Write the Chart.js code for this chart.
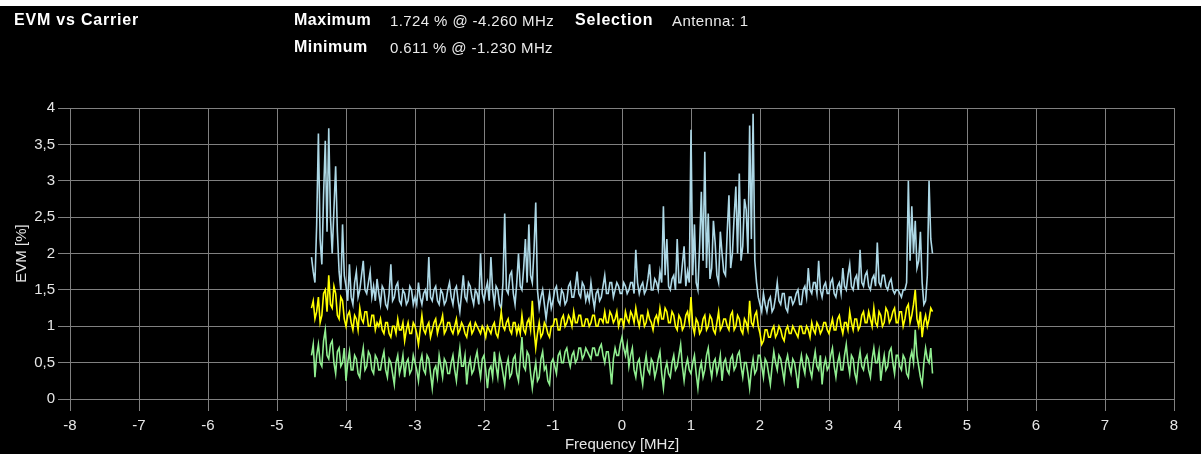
<!DOCTYPE html>
<html>
<head>
<meta charset="utf-8">
<script src="https://cdn.jsdelivr.net/npm/chart.js@4.4.1/dist/chart.umd.min.js"></script>
<style>
  html, body { margin: 0; padding: 0; background: #fff; }
  #panel { position: absolute; left: 0; top: 6px; width: 1201px; height: 448px; background: #000; overflow: hidden; }
  #chart { position: absolute; left: 0; top: 0; }
  .t { position: absolute; color: #fff; font-family: "Liberation Sans", Arial, sans-serif; white-space: nowrap; line-height: 1; }
  .b { font-weight: bold; font-size: 16px; letter-spacing: 0.5px; }
  .r { font-size: 15px; letter-spacing: 0.4px; color: #eaeaea; }
</style>
</head>
<body>
<div id="panel">
  <canvas id="chart" width="1201" height="448"></canvas>
  <div class="t b" style="left:14px; top:6px; letter-spacing:0.8px;">EVM vs Carrier</div>
  <div class="t b" style="left:294px; top:6px;">Maximum</div>
  <div class="t r" style="left:390px; top:7px;">1.724 % @ -4.260 MHz</div>
  <div class="t b" style="left:575px; top:6px; letter-spacing:0.8px;">Selection</div>
  <div class="t r" style="left:672px; top:7px;">Antenna: 1</div>
  <div class="t b" style="left:294px; top:33px;">Minimum</div>
  <div class="t r" style="left:390px; top:34px;">0.611 % @ -1.230 MHz</div>
</div>
<script>
// subcarrier grid (MHz)
const startMHz = -4.5
const stepMHz = 0.025

// EVM per carrier [%], every 0.025 MHz from -4.5 to 4.5
const evmMax = [
  1.95, 1.75, 1.6, 2.4, 3.65, 2.2, 1.85, 2.8, 3.55, 2.3, 3.72, 2.5, 2.0, 2.6, 3.2, 2.3, 1.75, 1.5, 2.4, 1.7,
  1.55, 1.35, 1.85, 1.4, 1.3, 1.6, 1.75, 1.4, 1.5, 1.7, 1.9, 1.5, 1.45, 1.6, 1.75, 1.4, 1.55, 1.35, 1.65, 1.45,
  1.3, 1.55, 1.5, 1.3, 1.25, 1.45, 1.85, 1.35, 1.4, 1.55, 1.6, 1.35, 1.3, 1.5, 1.45, 1.3, 1.35, 1.55, 1.5, 1.3,
  1.4, 1.3, 1.6, 1.4, 1.3, 1.45, 1.5, 1.35, 1.95, 1.4, 1.35, 1.5, 1.55, 1.35, 1.3, 1.5, 1.45, 1.3, 1.35, 1.5,
  1.6, 1.4, 1.3, 1.5, 1.55, 1.35, 1.2, 1.45, 1.7, 1.4, 1.35, 1.6, 1.55, 1.4, 1.3, 1.5, 1.45, 1.3, 2.0, 1.45,
  1.35, 1.5, 1.6, 1.35, 1.95, 1.5, 1.3, 1.55, 1.5, 1.3, 1.25, 1.6, 2.55, 1.5, 1.45, 1.7, 1.75, 1.45, 1.3, 1.6,
  2.0, 1.55, 1.5, 1.8, 2.2, 1.6, 2.4, 1.7, 1.6, 2.05, 2.7, 1.5, 1.25, 1.4, 1.5, 1.3, 1.1, 1.3, 1.45, 1.25,
  1.35, 1.5, 1.55, 1.35, 1.3, 1.5, 1.45, 1.3, 1.35, 1.55, 1.6, 1.4, 1.4, 1.55, 1.75, 1.45, 1.4, 1.6, 1.55, 1.35,
  1.45, 1.35, 1.6, 1.4, 1.25, 1.45, 1.5, 1.35, 1.4, 1.55, 1.7, 1.45, 1.45, 1.6, 1.6, 1.4, 1.5, 1.6, 1.55, 1.45,
  1.45, 1.6, 1.55, 1.45, 1.5, 1.6, 1.6, 1.45, 2.05, 1.6, 1.45, 1.55, 1.6, 1.45, 1.5, 1.65, 1.85, 1.5, 1.5, 1.65,
  1.6, 1.5, 1.75, 1.6, 2.65, 1.7, 2.2, 1.55, 1.5, 1.65, 1.7, 1.5, 2.2, 1.6, 1.6, 1.85, 2.1, 1.55, 1.75, 1.6,
  3.7, 1.7, 2.4, 1.6, 1.5, 2.1, 2.85, 1.9, 3.4, 1.8, 2.55, 1.65, 1.8, 2.45, 2.15, 1.7, 1.6, 2.3, 2.0, 1.75,
  1.7, 2.3, 2.8, 1.8, 2.0, 2.5, 2.92, 2.0, 3.1, 1.9, 2.1, 2.75, 2.6, 2.0, 3.76, 2.2, 3.92, 1.9, 1.6, 1.4,
  1.3, 1.2, 1.45, 1.3, 1.2, 1.35, 1.4, 1.2, 1.25, 1.4, 1.6, 1.35, 1.3, 1.45, 1.45, 1.25, 1.2, 1.4, 1.4, 1.3,
  1.35, 1.45, 1.5, 1.3, 1.3, 1.5, 1.55, 1.4, 1.8, 1.5, 1.45, 1.6, 1.6, 1.45, 1.9, 1.5, 1.4, 1.55, 1.6, 1.45,
  1.45, 1.6, 1.65, 1.45, 1.4, 1.55, 1.6, 1.45, 1.8, 1.55, 1.5, 1.7, 1.85, 1.55, 1.5, 1.65, 1.7, 1.5, 2.05, 1.6,
  1.55, 1.7, 1.75, 1.55, 1.5, 1.65, 1.7, 1.55, 2.15, 1.6, 1.55, 1.7, 1.7, 1.55, 1.5, 1.6, 1.65, 1.5, 1.45, 1.5,
  1.5, 1.45, 1.4, 1.5, 1.5, 1.6, 3.0, 1.9, 2.65, 2.0, 2.45, 1.8, 1.9, 2.3, 1.6, 1.3, 1.35, 1.7, 3.0, 2.2,
  2.0
]

const evmMean = [
  1.25, 1.35, 1.1, 1.2, 1.4, 1.05, 1.15, 1.45, 1.5, 1.2, 1.7, 1.3, 1.25, 1.55, 1.45, 1.15, 1.1, 1.4, 1.35, 1.1,
  1.0, 1.15, 1.2, 1.05, 0.95, 1.15, 1.1, 0.95, 1.25, 1.1, 1.05, 1.2, 1.2, 1.0, 1.0, 1.15, 1.15, 0.95, 1.05, 1.0,
  1.1, 0.95, 0.9, 1.05, 1.05, 0.9, 0.85, 1.0, 1.0, 0.9, 1.1, 0.95, 0.95, 1.05, 0.8, 0.95, 1.05, 0.9, 0.9, 1.05,
  1.0, 0.9, 0.75, 0.95, 1.15, 0.95, 0.9, 1.0, 1.05, 0.85, 0.95, 1.05, 1.1, 0.9, 1.0, 1.05, 1.15, 0.9, 0.95, 1.05,
  1.05, 0.95, 0.9, 1.0, 1.1, 0.9, 0.95, 1.05, 1.0, 0.9, 0.85, 1.0, 1.05, 0.9, 0.95, 1.05, 1.0, 0.95, 0.9, 1.0,
  0.95, 0.85, 1.0, 0.95, 0.9, 1.0, 1.05, 0.9, 0.85, 1.0, 1.2, 1.0, 0.95, 1.05, 1.1, 0.95, 0.9, 1.05, 1.05, 0.9,
  1.0, 0.9, 1.15, 0.95, 0.9, 1.05, 1.1, 0.95, 1.35, 0.95, 0.7, 0.9, 1.05, 0.85, 0.9, 1.05, 1.0, 0.9, 0.85, 1.0,
  1.0, 1.1, 1.1, 0.95, 0.95, 1.1, 1.15, 1.0, 1.05, 1.15, 1.1, 1.0, 1.2, 1.05, 1.05, 1.15, 1.15, 1.0, 1.0, 1.1,
  1.1, 1.0, 1.05, 1.15, 1.15, 1.0, 1.0, 1.1, 1.1, 1.05, 1.2, 1.05, 1.05, 1.2, 1.15, 1.05, 1.1, 1.2, 1.0, 1.1,
  1.1, 1.0, 1.2, 1.1, 1.05, 1.2, 1.15, 1.05, 1.25, 1.1, 1.0, 1.15, 1.15, 1.0, 1.05, 1.2, 1.1, 1.05, 0.95, 1.1,
  1.15, 1.05, 1.25, 1.1, 1.1, 1.25, 1.2, 1.05, 1.05, 1.2, 1.15, 1.0, 0.95, 1.15, 1.1, 0.95, 1.0, 1.15, 1.2, 1.05,
  1.4, 1.0, 0.9, 1.1, 1.05, 0.9, 0.95, 1.1, 1.15, 0.95, 1.0, 1.15, 1.1, 0.95, 0.9, 1.05, 1.2, 0.95, 1.0, 1.1,
  1.1, 1.0, 0.95, 1.15, 1.2, 0.95, 1.0, 1.15, 1.1, 0.95, 0.9, 1.1, 1.05, 0.95, 1.35, 1.05, 1.0, 1.15, 1.2, 1.0,
  0.9, 0.75, 0.8, 0.95, 0.95, 0.85, 0.85, 0.95, 1.0, 0.85, 0.9, 1.0, 0.95, 0.85, 0.8, 0.95, 1.0, 0.9, 0.9, 1.0,
  0.95, 0.9, 0.85, 1.0, 1.0, 0.9, 0.9, 1.0, 0.95, 0.85, 1.05, 0.95, 0.9, 1.05, 1.0, 0.9, 0.95, 1.05, 1.05, 0.95,
  0.9, 1.0, 1.1, 0.95, 0.95, 1.1, 1.15, 1.0, 0.9, 1.05, 1.05, 0.95, 1.2, 1.05, 0.95, 1.1, 1.1, 0.95, 1.0, 1.15,
  1.2, 1.05, 1.05, 1.2, 1.1, 1.0, 1.25, 1.05, 1.0, 1.2, 1.15, 1.0, 1.05, 1.25, 1.2, 1.05, 1.1, 1.2, 1.25, 1.05,
  1.05, 1.2, 1.2, 1.0, 1.1, 1.25, 1.3, 1.05, 1.15, 1.3, 1.5, 1.1, 1.0, 1.2, 0.85, 1.05, 1.15, 1.0, 1.1, 1.25,
  1.2
]

const evmMin = [
  0.6, 0.75, 0.3, 0.6, 0.75, 0.5, 0.45, 0.8, 0.95, 0.6, 0.55, 0.75, 0.8, 0.5, 0.35, 0.65, 0.7, 0.45, 0.5, 0.7,
  0.25, 0.5, 0.65, 0.4, 0.4, 0.6, 0.55, 0.35, 0.3, 0.55, 0.7, 0.4, 0.45, 0.65, 0.6, 0.4, 0.35, 0.6, 0.55, 0.4,
  0.4, 0.55, 0.65, 0.4, 0.3, 0.55, 0.5, 0.35, 0.2, 0.5, 0.6, 0.35, 0.45, 0.6, 0.3, 0.5, 0.55, 0.35, 0.4, 0.6,
  0.5, 0.4, 0.25, 0.5, 0.6, 0.4, 0.35, 0.6, 0.55, 0.35, 0.15, 0.4, 0.45, 0.3, 0.6, 0.45, 0.3, 0.55, 0.5, 0.35,
  0.35, 0.5, 0.6, 0.4, 0.25, 0.5, 0.7, 0.45, 0.45, 0.6, 0.2, 0.45, 0.55, 0.35, 0.4, 0.55, 0.65, 0.45, 0.3, 0.55,
  0.6, 0.4, 0.15, 0.4, 0.45, 0.3, 0.65, 0.45, 0.3, 0.6, 0.5, 0.35, 0.2, 0.45, 0.55, 0.3, 0.35, 0.55, 0.6, 0.35,
  0.25, 0.55, 0.85, 0.45, 0.4, 0.65, 0.6, 0.35, 0.15, 0.35, 0.5, 0.25, 0.3, 0.55, 0.65, 0.4, 0.45, 0.25, 0.2, 0.5,
  0.55, 0.45, 0.35, 0.6, 0.65, 0.5, 0.5, 0.65, 0.7, 0.55, 0.45, 0.6, 0.65, 0.5, 0.55, 0.7, 0.7, 0.55, 0.6, 0.7,
  0.65, 0.6, 0.55, 0.7, 0.7, 0.6, 0.6, 0.7, 0.75, 0.6, 0.5, 0.65, 0.65, 0.45, 0.2, 0.55, 0.7, 0.6, 0.6, 0.75,
  0.85, 0.7, 0.6, 0.75, 0.45, 0.6, 0.7, 0.4, 0.3, 0.5, 0.55, 0.35, 0.2, 0.45, 0.6, 0.4, 0.35, 0.55, 0.5, 0.3,
  0.4, 0.55, 0.65, 0.35, 0.15, 0.4, 0.5, 0.35, 0.3, 0.5, 0.6, 0.4, 0.45, 0.6, 0.75, 0.45, 0.25, 0.45, 0.55, 0.4,
  0.35, 0.5, 0.6, 0.35, 0.15, 0.4, 0.5, 0.3, 0.4, 0.6, 0.7, 0.45, 0.3, 0.5, 0.55, 0.35, 0.45, 0.6, 0.25, 0.5,
  0.55, 0.4, 0.35, 0.55, 0.6, 0.4, 0.45, 0.6, 0.65, 0.45, 0.3, 0.5, 0.5, 0.35, 0.15, 0.4, 0.55, 0.35, 0.4, 0.6,
  0.6, 0.45, 0.3, 0.55, 0.5, 0.35, 0.2, 0.45, 0.65, 0.5, 0.4, 0.6, 0.55, 0.4, 0.25, 0.5, 0.6, 0.45, 0.35, 0.55,
  0.5, 0.35, 0.15, 0.45, 0.6, 0.45, 0.35, 0.6, 0.55, 0.4, 0.3, 0.5, 0.65, 0.45, 0.4, 0.6, 0.2, 0.45, 0.55, 0.4,
  0.45, 0.6, 0.7, 0.45, 0.3, 0.5, 0.6, 0.4, 0.4, 0.6, 0.75, 0.5, 0.35, 0.6, 0.55, 0.35, 0.25, 0.5, 0.65, 0.45,
  0.4, 0.55, 0.6, 0.4, 0.3, 0.55, 0.7, 0.5, 0.5, 0.65, 0.25, 0.45, 0.6, 0.4, 0.45, 0.65, 0.7, 0.5, 0.35, 0.6,
  0.6, 0.45, 0.4, 0.6, 0.55, 0.35, 0.3, 0.55, 0.65, 0.5, 0.95, 0.6, 0.45, 0.3, 0.2, 0.5, 0.7, 0.55, 0.5, 0.7,
  0.35
]

const xTicks = [-8, -7, -6, -5, -4, -3, -2, -1, 0, 1, 2, 3, 4, 5, 6, 7, 8]
const yTicks = [0, 0.5, 1, 1.5, 2, 2.5, 3, 3.5, 4]

const toPoints = vals => vals.map((v, i) => ({ x: startMHz + i * stepMHz, y: v }))

const gridColor = '#808080'
const labelColor = '#e6e6e6'
const tickFont = { family: '"Liberation Sans", Arial, sans-serif', size: 15 }

new Chart(document.getElementById('chart'), {
  type: 'line',
  data: {
    datasets: [
      { label: 'Min', data: toPoints(evmMin), borderColor: '#90ee90' },
      { label: 'Mean', data: toPoints(evmMean), borderColor: '#ffff00' },
      { label: 'Max', data: toPoints(evmMax), borderColor: '#add8e6' }
    ]
  },
  options: {
    responsive: false,
    animation: false,
    devicePixelRatio: 1,
    layout: { padding: { top: 102, right: 27, left: 0, bottom: 0 } },
    elements: {
      line: { borderWidth: 1.6, tension: 0 },
      point: { radius: 0, hoverRadius: 0 }
    },
    plugins: { legend: { display: false }, tooltip: { enabled: false } },
    scales: {
      x: {
        type: 'linear',
        min: xTicks[0],
        max: xTicks[xTicks.length - 1],
        afterBuildTicks: s => { s.ticks = xTicks.map(v => ({ value: v })) },
        afterFit: s => { s.height = 55 },
        grid: { color: gridColor, tickColor: gridColor, tickLength: 12, lineWidth: 1 },
        border: { color: gridColor },
        ticks: { color: labelColor, font: tickFont, padding: 6, maxRotation: 0 },
        title: {
          display: true, text: 'Frequency [MHz]', color: labelColor,
          font: tickFont, padding: { top: 0, bottom: 0 }
        }
      },
      y: {
        min: yTicks[0],
        max: yTicks[yTicks.length - 1],
        afterBuildTicks: s => { s.ticks = yTicks.map(v => ({ value: v })) },
        afterFit: s => { s.width = 70 },
        grid: { color: gridColor, tickColor: gridColor, tickLength: 12, lineWidth: 1 },
        border: { color: gridColor },
        ticks: {
          color: labelColor, font: tickFont, padding: 3,
          callback: v => String(v).replace('.', ',')
        },
        title: {
          display: true, text: 'EVM [%]', color: labelColor,
          font: tickFont, padding: { top: 13, bottom: 0 }
        }
      }
    }
  }
})
</script>
</body>
</html>
